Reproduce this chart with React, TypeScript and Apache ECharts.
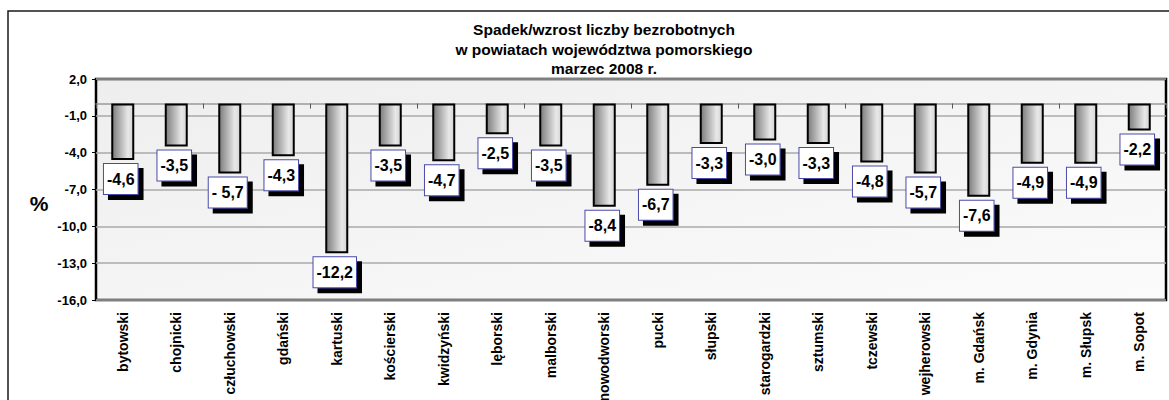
import React, { useEffect, useRef } from "react";
import * as echarts from "echarts";

const titleLines = [
  "Spadek/wzrost liczby bezrobotnych",
  "w powiatach województwa pomorskiego",
  "marzec 2008 r.",
];

const categories = [
  "bytowski", "chojnicki", "człuchowski", "gdański", "kartuski",
  "kościerski", "kwidzyński", "lęborski", "malborski", "nowodworski",
  "pucki", "słupski", "starogardzki", "sztumski", "tczewski",
  "wejherowski", "m. Gdańsk", "m. Gdynia", "m. Słupsk", "m. Sopot",
];

const values = [
  -4.6, -3.5, -5.7, -4.3, -12.2,
  -3.5, -4.7, -2.5, -3.5, -8.4,
  -6.7, -3.3, -3.0, -3.3, -4.8,
  -5.7, -7.6, -4.9, -4.9, -2.2,
];

const valueLabels = [
  "-4,6", "-3,5", "- 5,7", "-4,3", "-12,2",
  "-3,5", "-4,7", "-2,5", "-3,5", "-8,4",
  "-6,7", "-3,3", "-3,0", "-3,3", "-4,8",
  "-5,7", "-7,6", "-4,9", "-4,9", "-2,2",
];

const yMin = -16;
const yMax = 2;
const yInterval = 3;
const yAxisName = "%";

const FONT = "'Liberation Sans', Arial, Helvetica, sans-serif";

export default function App() {
  const ref = useRef<HTMLDivElement>(null);

  useEffect(() => {
    document.body.style.margin = "0";
    if (!ref.current) return;
    const chart = echarts.init(ref.current, null, { renderer: "svg" });

    chart.setOption({
      animation: false,
      backgroundColor: "#ffffff",
      title: {
        text: titleLines.join("\n"),
        left: 599,
        top: 15,
        textAlign: "center",
        textStyle: {
          fontFamily: FONT,
          fontSize: 15.5,
          fontWeight: "bold",
          lineHeight: 19.5,
          color: "#000",
        },
      },
      graphic: [
        {
          type: "rect",
          shape: { x: 8, y: 11, width: 1200, height: 500 },
          style: { fill: "none", stroke: "#1a1a1a", lineWidth: 1.5 },
          silent: true,
          z: 0,
        },
        {
          type: "text",
          x: 39,
          y: 203,
          style: {
            text: yAxisName,
            fontFamily: FONT,
            fontSize: 21,
            fontWeight: "bold",
            fill: "#000",
            align: "center",
            verticalAlign: "middle",
          },
          silent: true,
        },
      ],
      grid: {
        left: 96,
        top: 79,
        width: 1070,
        height: 221,
        show: true,
        borderColor: "#000",
        borderWidth: 2.5,
        backgroundColor: new echarts.graphic.LinearGradient(0, 0, 1, 1, [
          { offset: 0, color: "#eeeeee" },
          { offset: 1, color: "#fbfbfb" },
        ]),
        containLabel: false,
        outerBoundsMode: "none",
      },
      xAxis: [
        {
          type: "category",
          data: categories,
          position: "top",
          axisLine: { show: true, onZero: true, lineStyle: { color: "#9a9a9a", width: 1.5 } },
          axisTick: { show: true, inside: true, length: 5, lineStyle: { color: "#555", width: 1 } },
          axisLabel: { show: false },
          splitLine: { show: false },
        },
        {
          type: "category",
          data: categories,
          position: "bottom",
          axisLine: { show: false, onZero: false },
          axisTick: { show: false },
          axisLabel: {
            show: true,
            rotate: 90,
            margin: 12,
            interval: 0,
            fontFamily: FONT,
            fontSize: 14,
            fontWeight: "bold",
            color: "#000",
          },
          splitLine: { show: false },
        },
      ],
      yAxis: {
        type: "value",
        min: yMin,
        max: yMax,
        interval: yInterval,
        axisLine: { show: false },
        axisTick: { show: true, length: 4, lineStyle: { color: "#000", width: 1 } },
        axisLabel: {
          margin: 9,
          fontFamily: FONT,
          fontSize: 13,
          fontWeight: "bold",
          color: "#000",
          formatter: (v: number) => v.toFixed(1).replace(".", ","),
        },
        splitLine: { show: true, lineStyle: { color: "#aaaaaa", width: 1.5 } },
      },
      series: [
        {
          name: "zmiana",
          type: "bar",
          data: values,
          barWidth: 23,
          itemStyle: {
            color: new echarts.graphic.LinearGradient(0, 0, 1, 0, [
              { offset: 0, color: "#7c7c7c" },
              { offset: 0.75, color: "#e8e8e8" },
              { offset: 1, color: "#d4d4d4" },
            ]),
            borderColor: "#000",
            borderWidth: 2,
          },
          label: {
            show: true,
            position: "bottom",
            distance: 4,
            offset: [-2, 0],
            fontFamily: FONT,
            fontSize: 16,
            fontWeight: "bold",
            lineHeight: 20,
            padding: [5, 3, 5, 3],
            formatter: (p: any) => valueLabels[p.dataIndex],
            color: "#000",
            backgroundColor: "#ffffff",
            borderColor: "#4a4aa8",
            borderWidth: 1,
            shadowColor: "#000000",
            shadowBlur: 0,
            shadowOffsetX: 5,
            shadowOffsetY: 5,
          },
        },
      ],
    });

    return () => chart.dispose();
  }, []);

  return <div ref={ref} style={{ width: 1169, height: 400 }} />;
}
